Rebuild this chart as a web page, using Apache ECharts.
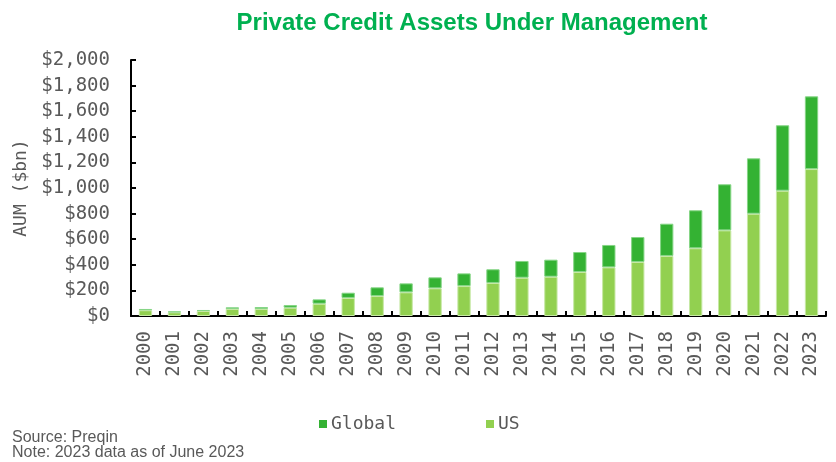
<!DOCTYPE html>
<html>
<head>
<meta charset="utf-8">
<script src="https://cdn.jsdelivr.net/npm/echarts@6/dist/echarts.min.js"></script>
<style>
  html, body { margin: 0; padding: 0; background: #fff; }
  #chart { width: 836px; height: 462px; }
</style>
</head>
<body>
<div id="chart"></div>
<script>
// Private credit AUM by year, $bn
const years = ['2000','2001','2002','2003','2004','2005','2006','2007','2008','2009','2010','2011',
               '2012','2013','2014','2015','2016','2017','2018','2019','2020','2021','2022','2023'];
// US portion (bottom of each stack)
const usAum = [45, 29, 39, 55, 55, 65, 96, 141, 156, 185, 216, 234,
               258, 299, 307, 344, 380, 422, 469, 529, 669, 799, 979, 1148];
// Rest of world portion (stacked on top of US)
const globalAum = [10, 7, 8, 13, 15, 21, 34, 41, 68, 70, 86, 99,
                   107, 131, 133, 156, 175, 195, 252, 297, 360, 433, 511, 568];
const yTicks = [0, 200, 400, 600, 800, 1000, 1200, 1400, 1600, 1800, 2000];

const mono = '"DejaVu Sans Mono", "Liberation Mono", monospace';
const sans = '"Liberation Sans", Arial, sans-serif';
const grey = '#595959';

const chart = echarts.init(document.getElementById('chart'), null, { renderer: 'canvas' });

chart.setOption({
  animation: false,
  backgroundColor: '#ffffff',
  title: {
    text: 'Private Credit Assets Under Management',
    left: 467,
    textAlign: 'center',
    top: 6,
    textStyle: { color: '#00B050', fontFamily: sans, fontWeight: 'bold', fontSize: 24 }
  },
  legend: {
    data: ['Global', 'US'],
    left: 314,
    top: 410,
    itemWidth: 8,
    itemHeight: 8,
    itemGap: 90,
    icon: 'rect',
    itemStyle: { borderWidth: 0 },
    textStyle: { fontFamily: mono, fontSize: 18, color: grey, padding: [0, 0, 0, -1] }
  },
  graphic: [
    { type: 'text', left: 12, top: 430, style: { text: 'Source: Preqin', font: '16px ' + sans, fill: grey } },
    { type: 'text', left: 12, top: 445, style: { text: 'Note: 2023 data as of June 2023', font: '16px ' + sans, fill: grey } }
  ],
  grid: { left: 131, right: 10, top: 60, bottom: 146, containLabel: false },
  xAxis: {
    type: 'category',
    data: years,
    axisLine: { lineStyle: { color: '#000', width: 2 } },
    axisTick: { show: true, inside: true, length: 5, lineStyle: { color: '#000', width: 2 } },
    axisLabel: { rotate: 90, margin: 15, fontFamily: mono, fontSize: 19, color: grey, interval: 0 }
  },
  yAxis: {
    type: 'value',
    min: yTicks[0],
    max: yTicks[yTicks.length - 1],
    interval: 200,
    name: 'AUM ($bn)',
    nameLocation: 'middle',
    nameGap: 99,
    nameTextStyle: { fontFamily: mono, fontSize: 18, color: grey },
    splitLine: { show: false },
    axisLine: { show: true, lineStyle: { color: '#000', width: 2 } },
    axisTick: { show: true, inside: true, length: 5, lineStyle: { color: '#000', width: 2 } },
    axisLabel: {
      margin: 21,
      fontFamily: mono,
      fontSize: 19,
      color: grey,
      formatter: v => '$' + v.toLocaleString('en-US')
    }
  },
  series: [
    {
      name: 'US',
      type: 'bar',
      stack: 'aum',
      data: usAum,
      barWidth: '46%',
      itemStyle: { color: '#92D050', borderColor: '#C6E8A4', borderWidth: 1 }
    },
    {
      name: 'Global',
      type: 'bar',
      stack: 'aum',
      data: globalAum,
      barWidth: '46%',
      itemStyle: { color: '#34B233', borderColor: '#86D586', borderWidth: 1 }
    }
  ]
});
</script>
</body>
</html>
